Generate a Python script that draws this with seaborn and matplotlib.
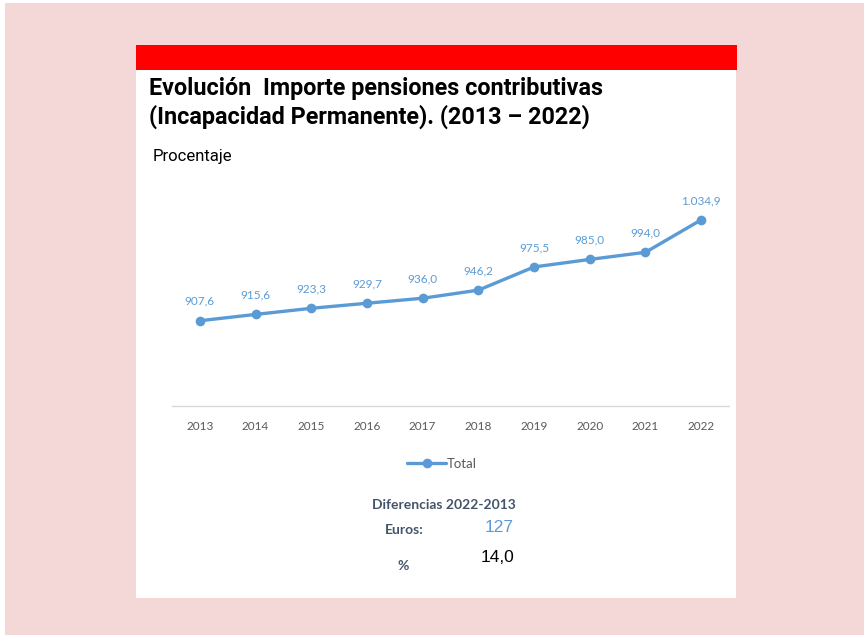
import matplotlib

matplotlib.use("Agg")

import matplotlib.pyplot as plt
import pandas as pd
import seaborn as sns
from matplotlib.patches import Rectangle

years = ["2013", "2014", "2015", "2016", "2017", "2018", "2019", "2020", "2021", "2022"]
totals = [907.6, 915.6, 923.3, 929.7, 936.0, 946.2, 975.5, 985.0, 994.0, 1034.9]
diff_euros = 127
diff_pct = 14.0

title_lines = ["Evolución  Importe pensiones contributivas", "(Incapacidad Permanente). (2013 – 2022)"]
subtitle = "Procentaje"
series_name = "Total"

BLUE = "#5B9BD5"
PINK = "#F4D7D7"


def es_number(value: float, decimals: int = 1) -> str:
    text = f"{value:,.{decimals}f}"
    return text.replace(",", "X").replace(".", ",").replace("X", ".")


sns.set_theme(style="white")
plt.rcParams["font.family"] = ["Lato", "DejaVu Sans"]

df = pd.DataFrame({"year": years, "total": totals})

fig = plt.figure(figsize=(8.64, 6.35), dpi=100)
W, H = 864, 635


def px(x, y):
    return x / W, 1 - y / H


# background panels
fig.patches.append(Rectangle((5 / W, 0), 1, 1 - 3 / H, transform=fig.transFigure,
                             facecolor=PINK, edgecolor="none", zorder=-3))
fig.patches.append(Rectangle((136 / W, 1 - 598 / H), 600 / W, 553 / H, transform=fig.transFigure,
                             facecolor="white", edgecolor="none", zorder=-2))
fig.patches.append(Rectangle((136 / W, 1 - 70 / H), 601 / W, 25 / H, transform=fig.transFigure,
                             facecolor="#FF0000", edgecolor="none", zorder=-1))

# titles
fig.text(*px(149, 88), title_lines[0], fontsize=16.8, fontweight="bold", family="Roboto",
         color="black", va="center", ha="left")
fig.text(*px(149, 117), title_lines[1], fontsize=16.8, fontweight="bold", family="Roboto",
         color="black", va="center", ha="left")
fig.text(*px(153, 157), subtitle, fontsize=12, family="Roboto", color="black", va="center", ha="left")

ax = fig.add_axes([172 / W, 1 - 406 / H, 557 / W, 206 / H])
ax.patch.set_alpha(0)
sns.lineplot(data=df, x="year", y="total", ax=ax, color=BLUE, linewidth=2.4,
             marker="o", markersize=7, markeredgewidth=0, label=series_name, sort=False)

for i, v in enumerate(totals):
    ax.annotate(es_number(v), (i, v), xytext=(0, 14), textcoords="offset points",
                ha="center", va="center", fontsize=8.5, color=BLUE)

ax.set_xlim(-0.5, len(years) - 0.5)
ax.set_ylim(800, 1060)
ax.set_xlabel("")
ax.set_ylabel("")
ax.set_yticks([])
for side in ["top", "right", "left"]:
    ax.spines[side].set_visible(False)
ax.spines["bottom"].set_color("#D9D9D9")
ax.spines["bottom"].set_linewidth(1)
ax.tick_params(axis="x", length=0, pad=11, labelsize=8.5, labelcolor="#595959")

leg = ax.legend(loc="center", bbox_to_anchor=px(442, 464),
                bbox_transform=fig.transFigure, frameon=False, fontsize=9.5,
                handlelength=3.0, handletextpad=0.05)
for t in leg.get_texts():
    t.set_color("#595959")

# differences block
fig.text(*px(444, 505), "Diferencias 2022-2013", fontsize=10, fontweight="bold",
         color="#44546A", ha="center", va="center")
fig.text(*px(404, 530), "Euros:", fontsize=10, fontweight="bold",
         color="#44546A", ha="center", va="center")
fig.text(*px(499, 527), f"{diff_euros}", fontsize=12.5, family="Liberation Sans",
         color=BLUE, ha="center", va="center")
fig.text(*px(403, 566), "%", fontsize=10, fontweight="bold",
         color="#44546A", ha="center", va="center")
fig.text(*px(498, 557), es_number(diff_pct), fontsize=12.5, family="Liberation Sans",
         color="black", ha="center", va="center")

fig.savefig("out.png", dpi=100)
